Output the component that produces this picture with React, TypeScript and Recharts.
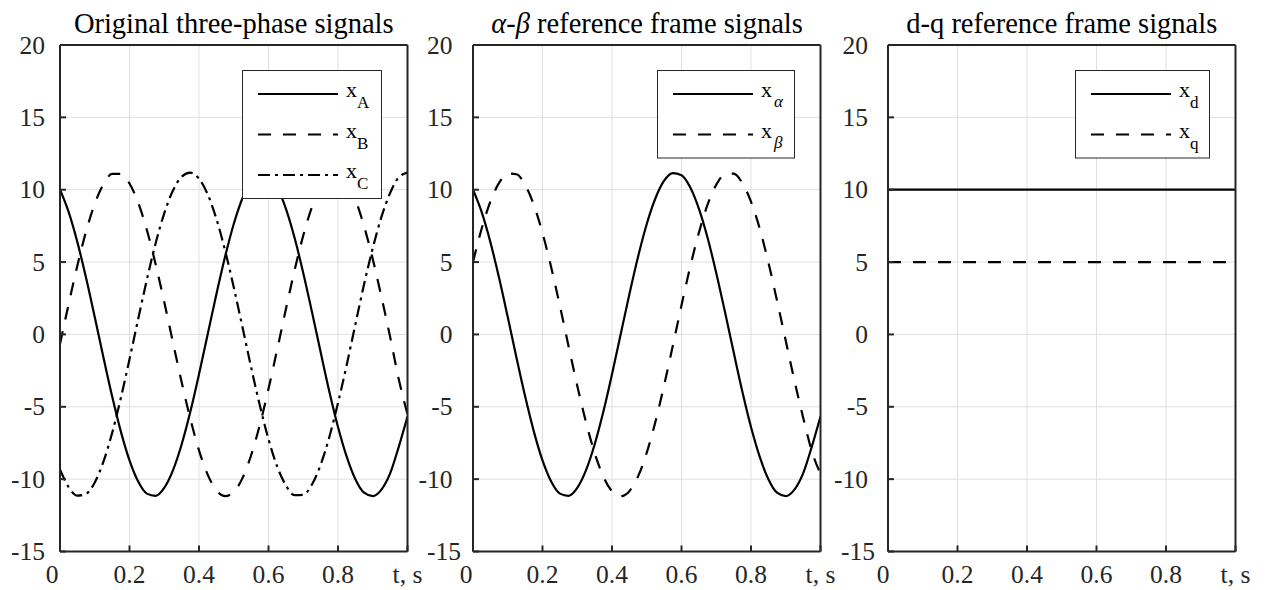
// Three-panel figure: abc signals, Clarke (alpha-beta) and Park (d-q) frames.
// MATLAB-style boxed axes with inward ticks, light grid and a framed legend.

import React from "react";
import { LineChart, Line, XAxis, YAxis, CartesianGrid, Legend } from "recharts";

const time = [
  0, 0.025, 0.05, 0.075, 0.1, 0.125, 0.15, 0.175, 0.2, 0.225, 0.25, 0.275, 0.3, 0.325, 0.35, 0.375, 0.4,
  0.425, 0.45, 0.475, 0.5, 0.525, 0.55, 0.575, 0.6, 0.625, 0.65, 0.675, 0.7, 0.725, 0.75, 0.775, 0.8,
  0.825, 0.85, 0.875, 0.9, 0.925, 0.95, 0.975, 1,
];

const xA = [
  10, 8.45, 6.38, 3.91, 1.2, -1.59, -4.28, -6.7, -8.71, -10.17, -11.0, -11.15, -10.61, -9.4, -7.61, -5.35,
  -2.75, 0.01, 2.78, 5.37, 7.63, 9.41, 10.62, 11.15, 11.0, 10.17, 8.69, 6.68, 4.25, 1.56, -1.22, -3.94,
  -6.4, -8.45, -10.01, -10.94, -11.17, -10.72, -9.6, -7.75, -5.67,
];

const xB = [
  -0.67, 2.11, 4.76, 7.11, 9.03, 10.38, 11.09, 11.1, 10.43, 9.1, 7.22, 4.87, 2.24, -0.54, -3.29, -5.83,
  -8.01, -9.69, -10.77, -11.18, -10.89, -9.93, -8.35, -6.25, -3.76, -1.04, 1.74, 4.43, 6.83, 8.81, 10.23,
  11.03, 11.14, 10.56, 9.32, 7.48, 5.21, 2.6, -0.17, -3.11, -5.51,
];

const xC = [
  -9.33, -10.56, -11.14, -11.02, -10.23, -8.79, -6.81, -4.4, -1.72, 1.07, 3.79, 6.28, 8.37, 9.94, 10.9,
  11.18, 10.76, 9.68, 7.99, 5.81, 3.26, 0.52, -2.27, -4.9, -7.24, -9.13, -10.43, -11.11, -11.08, -10.37,
  -9.01, -7.09, -4.74, -2.11, 0.69, 3.46, 5.96, 8.12, 9.77, 10.86, 11.18,
];

// alpha axis coincides with phase A
const xAlpha = xA;

const xBeta = [
  5, 7.32, 9.18, 10.47, 11.12, 11.07, 10.33, 8.95, 7.01, 4.64, 1.98, -0.81, -3.54, -6.05, -8.19, -9.82,
  -10.84, -11.18, -10.83, -9.81, -8.17, -6.03, -3.51, -0.78, 2.01, 4.67, 7.03, 8.97, 10.34, 11.07, 11.11,
  10.46, 9.17, 7.32, 4.98, 2.32, -0.43, -3.19, -5.74, -8.06, -9.64,
];

const dqTime = [0, 1];
const xd = [10, 10];
const xq = [5, 5];

const timeTicks = [0, 0.2, 0.4, 0.6, 0.8, 1];
const timeTickLabels = ["0", "0.2", "0.4", "0.6", "0.8", "t, s"];
const valueTicks = [-15, -10, -5, 0, 5, 10, 15, 20];

const FONT = "Liberation Serif";
const AXIS = "#262626";
const GRID = "#dfdfdf";
const DASHED = "13 12";
const DASH_DOT = "12 5 3 5";
const LINE_W = 2.2;

const CHART_H = 590;
const PLOT_TOP = 45;
const PLOT_BOTTOM = 551.5;
const PLOT_W = 347.5;
const Y_AXIS_W = 60;
const RIGHT_PAD = 29;
const TICK = -6; // negative => ticks point into the plot box

type Series = { key: string; sub: string; greek?: boolean; dash?: string; values: number[] };

type Panel = {
  id: string;
  title: React.ReactNode;
  plotLeft: number;
  yGap: number;
  bottomShift: number;
  zeroShift: number;
  legendW: number;
  t: number[];
  series: Series[];
};

const panels: Panel[] = [
  {
    id: "abc",
    title: "Original three-phase signals",
    plotLeft: 60,
    yGap: 15,
    bottomShift: 0,
    zeroShift: -8,
    legendW: 140,
    t: time,
    series: [
      { key: "xA", sub: "A", values: xA },
      { key: "xB", sub: "B", dash: DASHED, values: xB },
      { key: "xC", sub: "C", dash: DASH_DOT, values: xC },
    ],
  },
  {
    id: "ab",
    title: (
      <>
        <tspan fontStyle="italic">α</tspan>-<tspan fontStyle="italic">β</tspan> reference frame signals
      </>
    ),
    plotLeft: 473.3,
    yGap: 20.5,
    bottomShift: 8.5,
    zeroShift: -7,
    legendW: 138,
    t: time,
    series: [
      { key: "xAlpha", sub: "α", greek: true, values: xAlpha },
      { key: "xBeta", sub: "β", greek: true, dash: DASHED, values: xBeta },
    ],
  },
  {
    id: "dq",
    title: "d-q reference frame signals",
    plotLeft: 888,
    yGap: 20,
    bottomShift: 7,
    zeroShift: -5,
    legendW: 135,
    t: dqTime,
    series: [
      { key: "xd", sub: "d", values: xd },
      { key: "xq", sub: "q", dash: DASHED, values: xq },
    ],
  },
];

function LegendBox({ series, w }: { series: Series[]; w: number }) {
  const h = 48 + 40.5 * (series.length - 1);
  return (
    <svg width={w} height={h} style={{ display: "block" }}>
      <rect x={0.5} y={0.5} width={w - 1} height={h - 1} fill="#fff" stroke={AXIS} strokeWidth={1} />
      {series.map((s, k) => {
        const y = 24 + 40.5 * k;
        return (
          <g key={s.key}>
            <line x1={16} x2={96} y1={y} y2={y} stroke="#000" strokeWidth={LINE_W} strokeDasharray={s.dash} />
            <text x={104} y={y + 3} style={{ fontFamily: FONT }} fontSize={22} fill="#000">
              x
              <tspan dy={s.greek ? 10 : 11} dx={s.greek ? 2 : 0} fontSize={17} fontStyle={s.greek ? "italic" : "normal"}>
                {s.sub}
              </tspan>
            </text>
          </g>
        );
      })}
    </svg>
  );
}

function PanelChart({ p }: { p: Panel }) {
  const chartLeft = p.plotLeft - Y_AXIS_W;
  const width = Y_AXIS_W + PLOT_W + 1 + RIGHT_PAD;
  const rows = p.t.map((t, i) => {
    const row: Record<string, number> = { t };
    p.series.forEach((s) => (row[s.key] = s.values[i]));
    return row;
  });
  const legendH = 48 + 40.5 * (p.series.length - 1);
  const legendLeft = Y_AXIS_W + PLOT_W - 26 - p.legendW;

  const xTick = (props: any) => {
    const v = props.payload.value;
    const label = timeTickLabels[timeTicks.indexOf(v)];
    return (
      <text
        x={props.x + (v === 0 ? p.zeroShift : 0)}
        y={props.y}
        dy="0.71em"
        textAnchor="middle"
        style={{ fontFamily: FONT }}
        fontSize={25.5}
        fill={AXIS}
      >
        {label}
      </text>
    );
  };

  const yTick = (props: any) => {
    const v = props.payload.value;
    return (
      <text
        x={props.x + (v === -15 ? p.bottomShift : 0)}
        y={props.y}
        dominantBaseline="central"
        textAnchor="end"
        style={{ fontFamily: FONT }}
        fontSize={25.5}
        fill={AXIS}
      >
        {String(v)}
      </text>
    );
  };

  return (
    <div style={{ position: "absolute", left: chartLeft, top: 0 }}>
      <LineChart
        width={width}
        height={CHART_H}
        data={rows}
        margin={{ top: PLOT_TOP - 1, right: RIGHT_PAD, bottom: 0, left: 0 }}
      >
        <CartesianGrid stroke={GRID} strokeWidth={1} />
        <XAxis
          dataKey="t"
          type="number"
          domain={[0, 1]}
          ticks={timeTicks}
          allowDataOverflow
          height={CHART_H - PLOT_BOTTOM}
          tickSize={TICK}
          tickMargin={19.75}
          tick={xTick}
          axisLine={{ stroke: AXIS, strokeWidth: 2 }}
          tickLine={{ stroke: AXIS, strokeWidth: 2 }}
        />
        <XAxis
          xAxisId="top"
          orientation="top"
          dataKey="t"
          type="number"
          domain={[0, 1]}
          ticks={timeTicks}
          allowDataOverflow
          height={1}
          tickSize={TICK}
          tick={false}
          axisLine={{ stroke: AXIS, strokeWidth: 2 }}
          tickLine={{ stroke: AXIS, strokeWidth: 2 }}
        />
        <YAxis
          type="number"
          domain={[-15, 20]}
          ticks={valueTicks}
          allowDataOverflow
          width={Y_AXIS_W}
          tickSize={TICK}
          tickMargin={6 + p.yGap}
          tick={yTick}
          axisLine={{ stroke: AXIS, strokeWidth: 2 }}
          tickLine={{ stroke: AXIS, strokeWidth: 2 }}
        />
        <YAxis
          yAxisId="right"
          orientation="right"
          type="number"
          domain={[-15, 20]}
          ticks={valueTicks}
          allowDataOverflow
          width={1}
          tickSize={TICK}
          tick={false}
          axisLine={{ stroke: AXIS, strokeWidth: 2 }}
          tickLine={{ stroke: AXIS, strokeWidth: 2 }}
        />
        {p.series.map((s) => (
          <Line
            key={s.key}
            dataKey={s.key}
            type="monotone"
            stroke="#000"
            strokeWidth={LINE_W}
            strokeDasharray={s.dash}
            dot={false}
            activeDot={false}
            isAnimationActive={false}
          />
        ))}
        <Legend
          layout="horizontal"
          verticalAlign="middle"
          align="center"
          wrapperStyle={{ left: legendLeft, top: 70, width: p.legendW, height: legendH, margin: 0 }}
          content={() => <LegendBox series={p.series} w={p.legendW} />}
        />
      </LineChart>
    </div>
  );
}

export default function App() {
  return (
    <div
      style={{
        position: "absolute",
        left: 0,
        top: 0,
        width: 1267,
        height: 590,
        background: "#fff",
        overflow: "hidden",
      }}
    >
      <svg width={1267} height={45} style={{ position: "absolute", left: 0, top: 0 }}>
        {panels.map((p) => (
          <text
            key={p.id}
            x={p.plotLeft + PLOT_W / 2}
            y={33}
            textAnchor="middle"
            style={{ fontFamily: FONT }}
            fontSize={28.5}
            fill="#000"
          >
            {p.title}
          </text>
        ))}
      </svg>
      {panels.map((p) => (
        <PanelChart key={p.id} p={p} />
      ))}
    </div>
  );
}
